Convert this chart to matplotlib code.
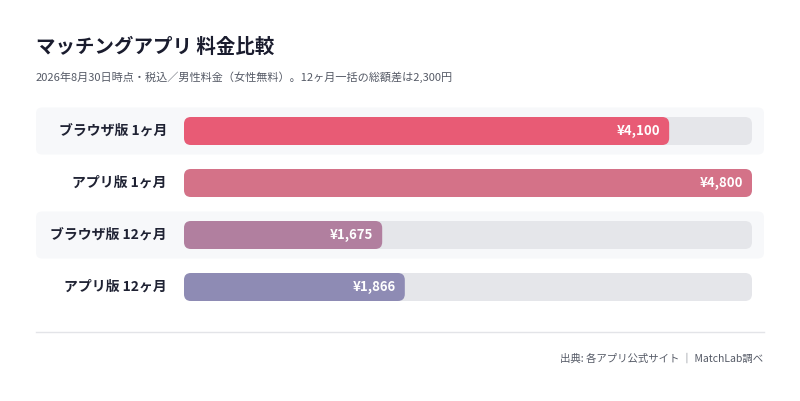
import matplotlib
matplotlib.use("Agg")
import matplotlib.pyplot as plt
from matplotlib.patches import FancyBboxPatch, Rectangle

plt.rcParams['font.family'] = ['Noto Sans CJK JP', 'DejaVu Sans']

categories = ["ブラウザ版 1ヶ月", "アプリ版 1ヶ月", "ブラウザ版 12ヶ月", "アプリ版 12ヶ月"]
values = [4100, 4800, 1675, 1866]
value_labels = ["¥4,100", "¥4,800", "¥1,675", "¥1,866"]
colors = ["#e85b75", "#d47288", "#b17f9f", "#8e8bb4"]
vmax = 4800

W, H = 800, 401
fig = plt.figure(figsize=(W/100, H/100), dpi=100)
fig.patch.set_facecolor("white")

x0, x1 = 184, 752
ytop, ybot = 100, 320
ax = fig.add_axes([x0/W, 1-ybot/H, (x1-x0)/W, (ybot-ytop)/H])
ax.set_xlim(0, vmax)
ax.set_ylim(ybot, ytop)
ax.axis("off")
kx = vmax/(x1-x0)  # data units per px

centers = [131, 183, 235, 287]
bh = 28
r = 7
for i, (c, v, lab, vl, col) in enumerate(zip(centers, values, categories, value_labels, colors)):
    if i % 2 == 0:
        ax.add_patch(FancyBboxPatch(((36-x0)*kx, c-23.5), (764-36)*kx, 47,
                     boxstyle=f"round,pad=0,rounding_size={6*kx}", mutation_aspect=1/kx,
                     fc="#f7f8fa", ec="none", clip_on=False, zorder=0))
    ax.add_patch(FancyBboxPatch((0, c-bh/2), vmax, bh,
                 boxstyle=f"round,pad=0,rounding_size={r*kx}", mutation_aspect=1/kx,
                 fc="#e5e6ea", ec="none", clip_on=False, zorder=1))
    ax.add_patch(FancyBboxPatch((0, c-bh/2), v, bh,
                 boxstyle=f"round,pad=0,rounding_size={r*kx}", mutation_aspect=1/kx,
                 fc=col, ec="none", clip_on=False, zorder=2))
    ax.text(v-9*kx, c, vl, ha="right", va="center", color="white",
            fontsize=9.5, fontweight="bold", zorder=3)
    ax.text(-17*kx, c, lab, ha="right", va="center", color="#1f2233",
            fontsize=10, fontweight="bold", zorder=3)

fig.text(36/W, 1-47/H, "マッチングアプリ 料金比較", fontsize=14, fontweight="bold",
         color="#1a1c2e", va="center", ha="left")
fig.text(36/W, 1-77/H, "2026年8月30日時点・税込／男性料金（女性無料）。12ヶ月一括の総額差は2,300円",
         fontsize=8, color="#555a66", va="center", ha="left")
fig.add_artist(plt.Line2D([36/W, 764/W], [1-332/H, 1-332/H], color="#e3e4e8", lw=1))
fig.text(763/W, 1-359/H, "出典: 各アプリ公式サイト ｜ MatchLab調べ", fontsize=7.5,
         color="#555a66", va="center", ha="right")

fig.savefig("out.png", dpi=100, facecolor="white")
